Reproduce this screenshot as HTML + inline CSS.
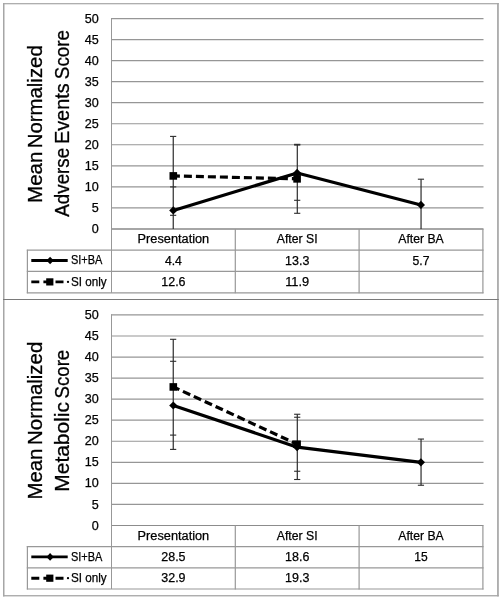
<!DOCTYPE html>
<html lang="en">
<head>
<meta charset="utf-8">
<title>Mean Normalized Scores</title>
<style>
html,body{margin:0;padding:0;background:#fff;}
body{width:502px;height:600px;overflow:hidden;}
svg{display:block;}
text{font-family:"Liberation Sans",sans-serif;fill:#000;}
.t{font-size:12.5px;stroke:#000;stroke-width:0.25px;}
.ti{font-size:20px;stroke:#000;stroke-width:0.3px;}
</style>
</head>
<body>
<svg width="502" height="600" viewBox="0 0 502 600">
<rect x="0" y="0" width="502" height="600" fill="#fff"/>
<rect x="3" y="3.1" width="495.8" height="1.2" fill="#a6a6a6"/>
<rect x="3" y="3.1" width="1.5" height="593.3" fill="#a6a6a6"/>
<rect x="497.1" y="3.1" width="1.7" height="593.3" fill="#a6a6a6"/>
<rect x="3" y="595.1" width="495.8" height="1.3" fill="#a6a6a6"/>
<rect x="3" y="299" width="495.8" height="1" fill="#7a7a7a"/>
<g>
<line x1="111.0" y1="207.88" x2="483.5" y2="207.88" stroke="#969696" stroke-width="1.2"/>
<line x1="111.0" y1="186.85" x2="483.5" y2="186.85" stroke="#969696" stroke-width="1.2"/>
<line x1="111.0" y1="165.81" x2="483.5" y2="165.81" stroke="#969696" stroke-width="1.2"/>
<line x1="111.0" y1="144.77" x2="483.5" y2="144.77" stroke="#969696" stroke-width="1.2"/>
<line x1="111.0" y1="123.73" x2="483.5" y2="123.73" stroke="#969696" stroke-width="1.2"/>
<line x1="111.0" y1="102.7" x2="483.5" y2="102.7" stroke="#969696" stroke-width="1.2"/>
<line x1="111.0" y1="81.66" x2="483.5" y2="81.66" stroke="#969696" stroke-width="1.2"/>
<line x1="111.0" y1="60.62" x2="483.5" y2="60.62" stroke="#969696" stroke-width="1.2"/>
<line x1="111.0" y1="39.59" x2="483.5" y2="39.59" stroke="#969696" stroke-width="1.2"/>
<line x1="111.0" y1="18.55" x2="483.5" y2="18.55" stroke="#969696" stroke-width="1.2"/>
<line x1="111.0" y1="228.97" x2="483.5" y2="228.97" stroke="#a6a6a6" stroke-width="2.0"/>
<line x1="111.5" y1="18.05" x2="111.5" y2="292.8" stroke="#989898" stroke-width="1"/>
<line x1="235.3" y1="228.92" x2="235.3" y2="293.3" stroke="#989898" stroke-width="1.2"/>
<line x1="359.1" y1="228.92" x2="359.1" y2="293.3" stroke="#989898" stroke-width="1.2"/>
<line x1="482.9" y1="228.92" x2="482.9" y2="293.3" stroke="#989898" stroke-width="1.2"/>
<line x1="27.4" y1="249.7" x2="27.4" y2="293.3" stroke="#989898" stroke-width="1.2"/>
<line x1="26.8" y1="250.2" x2="483.5" y2="250.2" stroke="#989898" stroke-width="1.2"/>
<line x1="26.8" y1="271.4" x2="483.5" y2="271.4" stroke="#989898" stroke-width="1.2"/>
<line x1="26.8" y1="292.8" x2="483.5" y2="292.8" stroke="#989898" stroke-width="1.2"/>
<text x="98.7" y="233.02" class="t" text-anchor="end" textLength="7.0" lengthAdjust="spacingAndGlyphs">0</text>
<text x="98.7" y="211.98" class="t" text-anchor="end" textLength="7.0" lengthAdjust="spacingAndGlyphs">5</text>
<text x="98.7" y="190.95" class="t" text-anchor="end" textLength="14.0" lengthAdjust="spacingAndGlyphs">10</text>
<text x="98.7" y="169.91" class="t" text-anchor="end" textLength="14.0" lengthAdjust="spacingAndGlyphs">15</text>
<text x="98.7" y="148.87" class="t" text-anchor="end" textLength="14.0" lengthAdjust="spacingAndGlyphs">20</text>
<text x="98.7" y="127.83" class="t" text-anchor="end" textLength="14.0" lengthAdjust="spacingAndGlyphs">25</text>
<text x="98.7" y="106.8" class="t" text-anchor="end" textLength="14.0" lengthAdjust="spacingAndGlyphs">30</text>
<text x="98.7" y="85.76" class="t" text-anchor="end" textLength="14.0" lengthAdjust="spacingAndGlyphs">35</text>
<text x="98.7" y="64.72" class="t" text-anchor="end" textLength="14.0" lengthAdjust="spacingAndGlyphs">40</text>
<text x="98.7" y="43.69" class="t" text-anchor="end" textLength="14.0" lengthAdjust="spacingAndGlyphs">45</text>
<text x="98.7" y="22.65" class="t" text-anchor="end" textLength="14.0" lengthAdjust="spacingAndGlyphs">50</text>
<text transform="translate(42.3,202.89) rotate(-90)" class="ti" textLength="51.28" lengthAdjust="spacingAndGlyphs">Mean</text>
<text transform="translate(42.3,148.29) rotate(-90)" class="ti" textLength="103.05" lengthAdjust="spacingAndGlyphs">Normalized</text>
<text transform="translate(69.1,216.64) rotate(-90)" class="ti" textLength="68.78" lengthAdjust="spacingAndGlyphs">Adverse</text>
<text transform="translate(69.1,144.04) rotate(-90)" class="ti" textLength="60.68" lengthAdjust="spacingAndGlyphs">Events</text>
<text transform="translate(69.1,79.15) rotate(-90)" class="ti" textLength="49.07" lengthAdjust="spacingAndGlyphs">Score</text>
<text x="173.4" y="243.27" class="t" text-anchor="middle" textLength="71.6" lengthAdjust="spacingAndGlyphs">Presentation</text>
<text x="297.2" y="243.27" class="t" text-anchor="middle" textLength="40.8" lengthAdjust="spacingAndGlyphs">After SI</text>
<text x="421.0" y="243.27" class="t" text-anchor="middle" textLength="45.5" lengthAdjust="spacingAndGlyphs">After BA</text>
<text x="173.4" y="264.5" class="t" text-anchor="middle" textLength="17" lengthAdjust="spacingAndGlyphs">4.4</text>
<text x="297.2" y="264.5" class="t" text-anchor="middle" textLength="24.3" lengthAdjust="spacingAndGlyphs">13.3</text>
<text x="421.0" y="264.5" class="t" text-anchor="middle" textLength="17" lengthAdjust="spacingAndGlyphs">5.7</text>
<text x="173.4" y="285.7" class="t" text-anchor="middle" textLength="24.3" lengthAdjust="spacingAndGlyphs">12.6</text>
<text x="297.2" y="285.7" class="t" text-anchor="middle" textLength="24" lengthAdjust="spacingAndGlyphs">11.9</text>
<line x1="31.3" y1="260.5" x2="67.7" y2="260.5" stroke="#000" stroke-width="2.9"/>
<polygon points="46.5,260.5 50.1,256.7 53.7,260.5 50.1,264.3" fill="#000"/>
<line x1="31.3" y1="281.9" x2="67.0" y2="281.9" stroke="#000" stroke-width="2.9" stroke-dasharray="8 4.1"/>
<circle cx="68.0" cy="281.9" r="1.15" fill="#000"/>
<rect x="46.2" y="278.3" width="7.2" height="7.2" fill="#000"/>
<text x="70.9" y="264.4" class="t" text-anchor="start" textLength="31.5" lengthAdjust="spacingAndGlyphs">SI+BA</text>
<text x="70.9" y="285.7" class="t" text-anchor="start" textLength="35.7" lengthAdjust="spacingAndGlyphs">SI only</text>
<line x1="173.25" y1="136.4" x2="173.25" y2="229" stroke="#2c2c2c" stroke-width="1.2"/>
<line x1="170.05" y1="136.4" x2="176.25" y2="136.4" stroke="#2c2c2c" stroke-width="1.1"/>
<line x1="170.05" y1="186.9" x2="176.25" y2="186.9" stroke="#2c2c2c" stroke-width="1.1"/>
<line x1="170.05" y1="215.3" x2="176.25" y2="215.3" stroke="#2c2c2c" stroke-width="1.1"/>
<line x1="297.3" y1="144.3" x2="297.3" y2="213.3" stroke="#2c2c2c" stroke-width="1.2"/>
<line x1="294.1" y1="144.35" x2="300.3" y2="144.35" stroke="#2c2c2c" stroke-width="1.1"/>
<line x1="294.1" y1="145.05" x2="300.3" y2="145.05" stroke="#2c2c2c" stroke-width="1.1"/>
<line x1="294.1" y1="200.3" x2="300.3" y2="200.3" stroke="#2c2c2c" stroke-width="1.1"/>
<line x1="294.1" y1="213.3" x2="300.3" y2="213.3" stroke="#2c2c2c" stroke-width="1.1"/>
<line x1="421.05" y1="179.2" x2="421.05" y2="229" stroke="#2c2c2c" stroke-width="1.2"/>
<line x1="417.85" y1="179.2" x2="424.05" y2="179.2" stroke="#2c2c2c" stroke-width="1.1"/>
<polyline points="173.4,175.91 297.2,178.85" fill="none" stroke="#000" stroke-width="3.2" stroke-dasharray="8 4" stroke-dashoffset="1.5"/>
<polyline points="173.4,210.41 297.2,172.96 421.0,204.94" fill="none" stroke="#000" stroke-width="3.2" stroke-linejoin="round" stroke-linecap="round"/>
<rect x="169.5" y="172.11" width="7.6" height="7.6" fill="#000"/>
<rect x="293.3" y="175.05" width="7.6" height="7.6" fill="#000"/>
<polygon points="169.2,210.41 173.3,206.31 177.4,210.41 173.3,214.51" fill="#000"/>
<polygon points="293.0,172.96 297.1,168.86 301.2,172.96 297.1,177.06" fill="#000"/>
<polygon points="416.8,204.94 420.9,200.84 425.0,204.94 420.9,209.04" fill="#000"/>
</g>
<g>
<line x1="111.0" y1="504.44" x2="483.5" y2="504.44" stroke="#969696" stroke-width="1.2"/>
<line x1="111.0" y1="483.39" x2="483.5" y2="483.39" stroke="#969696" stroke-width="1.2"/>
<line x1="111.0" y1="462.33" x2="483.5" y2="462.33" stroke="#969696" stroke-width="1.2"/>
<line x1="111.0" y1="441.27" x2="483.5" y2="441.27" stroke="#969696" stroke-width="1.2"/>
<line x1="111.0" y1="420.22" x2="483.5" y2="420.22" stroke="#969696" stroke-width="1.2"/>
<line x1="111.0" y1="399.16" x2="483.5" y2="399.16" stroke="#969696" stroke-width="1.2"/>
<line x1="111.0" y1="378.1" x2="483.5" y2="378.1" stroke="#969696" stroke-width="1.2"/>
<line x1="111.0" y1="357.04" x2="483.5" y2="357.04" stroke="#969696" stroke-width="1.2"/>
<line x1="111.0" y1="335.99" x2="483.5" y2="335.99" stroke="#969696" stroke-width="1.2"/>
<line x1="111.0" y1="314.93" x2="483.5" y2="314.93" stroke="#969696" stroke-width="1.2"/>
<line x1="111.0" y1="525.5" x2="483.5" y2="525.5" stroke="#8c8c8c" stroke-width="1.1"/>
<line x1="111.5" y1="314.43" x2="111.5" y2="589.0" stroke="#989898" stroke-width="1"/>
<line x1="235.3" y1="525.5" x2="235.3" y2="589.5" stroke="#989898" stroke-width="1.2"/>
<line x1="359.1" y1="525.5" x2="359.1" y2="589.5" stroke="#989898" stroke-width="1.2"/>
<line x1="482.9" y1="525.5" x2="482.9" y2="589.5" stroke="#989898" stroke-width="1.2"/>
<line x1="27.4" y1="546.1" x2="27.4" y2="589.5" stroke="#989898" stroke-width="1.2"/>
<line x1="26.8" y1="546.6" x2="483.5" y2="546.6" stroke="#989898" stroke-width="1.2"/>
<line x1="26.8" y1="567.8" x2="483.5" y2="567.8" stroke="#989898" stroke-width="1.2"/>
<line x1="26.8" y1="589.0" x2="483.5" y2="589.0" stroke="#989898" stroke-width="1.2"/>
<text x="98.7" y="529.6" class="t" text-anchor="end" textLength="7.0" lengthAdjust="spacingAndGlyphs">0</text>
<text x="98.7" y="508.54" class="t" text-anchor="end" textLength="7.0" lengthAdjust="spacingAndGlyphs">5</text>
<text x="98.7" y="487.49" class="t" text-anchor="end" textLength="14.0" lengthAdjust="spacingAndGlyphs">10</text>
<text x="98.7" y="466.43" class="t" text-anchor="end" textLength="14.0" lengthAdjust="spacingAndGlyphs">15</text>
<text x="98.7" y="445.37" class="t" text-anchor="end" textLength="14.0" lengthAdjust="spacingAndGlyphs">20</text>
<text x="98.7" y="424.32" class="t" text-anchor="end" textLength="14.0" lengthAdjust="spacingAndGlyphs">25</text>
<text x="98.7" y="403.26" class="t" text-anchor="end" textLength="14.0" lengthAdjust="spacingAndGlyphs">30</text>
<text x="98.7" y="382.2" class="t" text-anchor="end" textLength="14.0" lengthAdjust="spacingAndGlyphs">35</text>
<text x="98.7" y="361.14" class="t" text-anchor="end" textLength="14.0" lengthAdjust="spacingAndGlyphs">40</text>
<text x="98.7" y="340.09" class="t" text-anchor="end" textLength="14.0" lengthAdjust="spacingAndGlyphs">45</text>
<text x="98.7" y="319.03" class="t" text-anchor="end" textLength="14.0" lengthAdjust="spacingAndGlyphs">50</text>
<text transform="translate(42.3,499.55) rotate(-90)" class="ti" textLength="50.88" lengthAdjust="spacingAndGlyphs">Mean</text>
<text transform="translate(42.3,444.89) rotate(-90)" class="ti" textLength="103.14" lengthAdjust="spacingAndGlyphs">Normalized</text>
<text transform="translate(69.1,491.65) rotate(-90)" class="ti" textLength="89.52" lengthAdjust="spacingAndGlyphs">Metabolic</text>
<text transform="translate(69.1,398.42) rotate(-90)" class="ti" textLength="48.63" lengthAdjust="spacingAndGlyphs">Score</text>
<text x="173.4" y="539.85" class="t" text-anchor="middle" textLength="71.6" lengthAdjust="spacingAndGlyphs">Presentation</text>
<text x="297.2" y="539.85" class="t" text-anchor="middle" textLength="40.8" lengthAdjust="spacingAndGlyphs">After SI</text>
<text x="421.0" y="539.85" class="t" text-anchor="middle" textLength="45.5" lengthAdjust="spacingAndGlyphs">After BA</text>
<text x="173.4" y="560.9" class="t" text-anchor="middle" textLength="24.3" lengthAdjust="spacingAndGlyphs">28.5</text>
<text x="297.2" y="560.9" class="t" text-anchor="middle" textLength="24.3" lengthAdjust="spacingAndGlyphs">18.6</text>
<text x="421.0" y="560.9" class="t" text-anchor="middle" textLength="13.4" lengthAdjust="spacingAndGlyphs">15</text>
<text x="173.4" y="582.1" class="t" text-anchor="middle" textLength="24.3" lengthAdjust="spacingAndGlyphs">32.9</text>
<text x="297.2" y="582.1" class="t" text-anchor="middle" textLength="24.3" lengthAdjust="spacingAndGlyphs">19.3</text>
<line x1="31.3" y1="556.9" x2="67.7" y2="556.9" stroke="#000" stroke-width="2.9"/>
<polygon points="46.5,556.9 50.1,553.1 53.7,556.9 50.1,560.7" fill="#000"/>
<line x1="31.3" y1="578.2" x2="67.0" y2="578.2" stroke="#000" stroke-width="2.9" stroke-dasharray="8 4.1"/>
<circle cx="68.0" cy="578.2" r="1.15" fill="#000"/>
<rect x="46.2" y="574.6" width="7.2" height="7.2" fill="#000"/>
<text x="70.9" y="560.8" class="t" text-anchor="start" textLength="31.5" lengthAdjust="spacingAndGlyphs">SI+BA</text>
<text x="70.9" y="582.0" class="t" text-anchor="start" textLength="35.7" lengthAdjust="spacingAndGlyphs">SI only</text>
<line x1="173.25" y1="339.3" x2="173.25" y2="449.4" stroke="#2c2c2c" stroke-width="1.2"/>
<line x1="170.05" y1="339.3" x2="176.25" y2="339.3" stroke="#2c2c2c" stroke-width="1.1"/>
<line x1="170.05" y1="361.3" x2="176.25" y2="361.3" stroke="#2c2c2c" stroke-width="1.1"/>
<line x1="170.05" y1="435.1" x2="176.25" y2="435.1" stroke="#2c2c2c" stroke-width="1.1"/>
<line x1="170.05" y1="449.4" x2="176.25" y2="449.4" stroke="#2c2c2c" stroke-width="1.1"/>
<line x1="297.3" y1="414.25" x2="297.3" y2="479.5" stroke="#2c2c2c" stroke-width="1.2"/>
<line x1="294.1" y1="414.25" x2="300.3" y2="414.25" stroke="#2c2c2c" stroke-width="1.1"/>
<line x1="294.1" y1="417.25" x2="300.3" y2="417.25" stroke="#2c2c2c" stroke-width="1.1"/>
<line x1="294.1" y1="471.25" x2="300.3" y2="471.25" stroke="#2c2c2c" stroke-width="1.1"/>
<line x1="294.1" y1="479.5" x2="300.3" y2="479.5" stroke="#2c2c2c" stroke-width="1.1"/>
<line x1="421.05" y1="439.05" x2="421.05" y2="485.25" stroke="#2c2c2c" stroke-width="1.2"/>
<line x1="417.85" y1="439.05" x2="424.05" y2="439.05" stroke="#2c2c2c" stroke-width="1.1"/>
<line x1="417.85" y1="485.25" x2="424.05" y2="485.25" stroke="#2c2c2c" stroke-width="1.1"/>
<polyline points="173.4,386.94 297.2,444.22" fill="none" stroke="#000" stroke-width="3.2" stroke-dasharray="8 4" stroke-dashoffset="1.5"/>
<polyline points="173.4,405.48 297.2,447.17 421.0,462.33" fill="none" stroke="#000" stroke-width="3.2" stroke-linejoin="round" stroke-linecap="round"/>
<rect x="169.5" y="383.14" width="7.6" height="7.6" fill="#000"/>
<rect x="293.3" y="440.42" width="7.6" height="7.6" fill="#000"/>
<polygon points="169.2,405.48 173.3,401.38 177.4,405.48 173.3,409.58" fill="#000"/>
<polygon points="293.0,447.17 297.1,443.07 301.2,447.17 297.1,451.27" fill="#000"/>
<polygon points="416.8,462.33 420.9,458.23 425.0,462.33 420.9,466.43" fill="#000"/>
</g>
</svg>
</body>
</html>
